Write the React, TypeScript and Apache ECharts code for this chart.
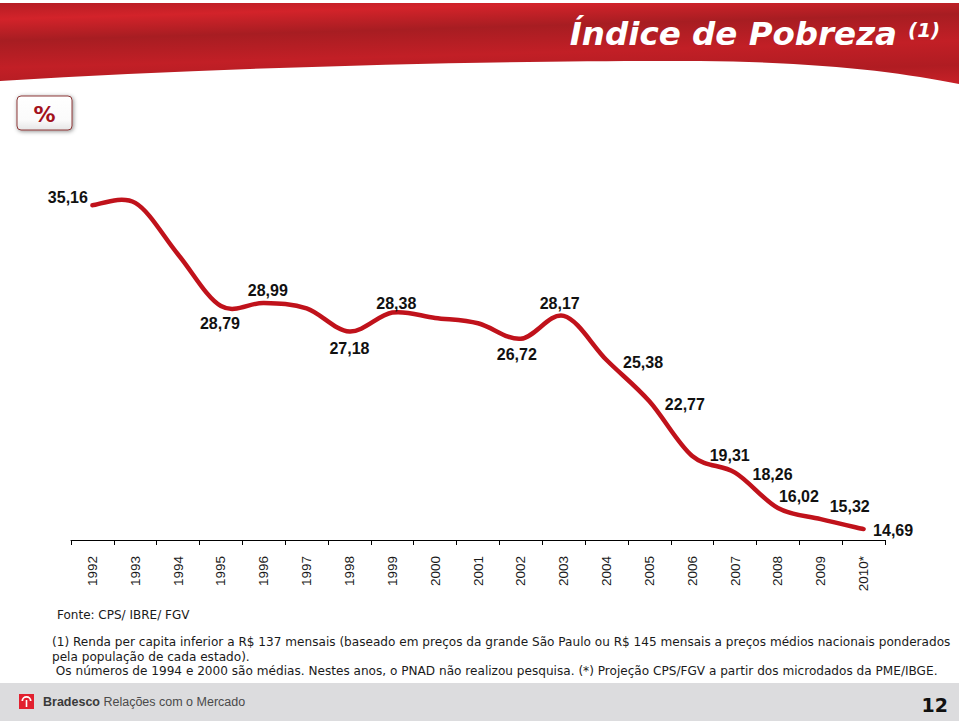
import React, { useEffect, useRef } from "react";
import * as echarts from "echarts";

const years = ["1992", "1993", "1994", "1995", "1996", "1997", "1998", "1999", "2000", "2001", "2002", "2003", "2004", "2005", "2006", "2007", "2008", "2009", "2010*"];
const povertyRate = [35.16, 35.31, 32.05, 28.79, 28.99, 28.64, 27.18, 28.38, 28.04, 27.7, 26.72, 28.17, 25.38, 22.77, 19.31, 18.26, 16.02, 15.32, 14.69];
const labelShown = [true, false, false, true, true, false, true, true, false, false, true, true, true, true, true, true, true, true, true];

const titleText = "Índice de Pobreza";
const titleNote = "(1)";
const unitText = "%";
const sourceText = "Fonte: CPS/ IBRE/ FGV";
const noteLines = [
  "(1) Renda per capita inferior a R$ 137 mensais (baseado em preços da grande São Paulo ou R$ 145 mensais a preços médios nacionais ponderados",
  "pela população de cada estado).",
  " Os números de 1994 e 2000 são médias. Nestes anos, o PNAD não realizou pesquisa. (*) Projeção CPS/FGV a partir dos microdados da PME/IBGE.",
];
const footerBrand = "Bradesco";
const footerText = " Relações com o Mercado";
const pageNumber = "12";

// label placement per point (style, not data)
const labelPlacement: Record<number, { position: string; distance: number; offset: number[] }> = {
  0: { position: "left", distance: 4, offset: [0, -8] },
  3: { position: "bottom", distance: 9, offset: [-1, 0] },
  4: { position: "top", distance: 4, offset: [4, 0] },
  6: { position: "bottom", distance: 8, offset: [0, 0] },
  7: { position: "top", distance: 1, offset: [4, 0] },
  10: { position: "bottom", distance: 7, offset: [-4, 0] },
  11: { position: "top", distance: 4, offset: [-4, 0] },
  12: { position: "right", distance: 16, offset: [0, 3] },
  13: { position: "right", distance: 15, offset: [0, 3] },
  14: { position: "right", distance: 17, offset: [0, -1] },
  15: { position: "right", distance: 17, offset: [0, 2] },
  16: { position: "top", distance: 3, offset: [21, 0] },
  17: { position: "top", distance: 4, offset: [29, 0] },
  18: { position: "right", distance: 9, offset: [0, 1] },
};

const bannerPath =
  "M0 3 L959 3 L959 84 C 900 72, 820 62, 700 61 C 520 60, 250 66, 0 81 Z";

// Excel-like smoothing (Catmull-Rom -> cubic Bezier) through library-projected points
function smoothPath(pts: number[][]): string {
  if (!pts.length) return "";
  let d = `M${pts[0][0]} ${pts[0][1]}`;
  for (let i = 0; i < pts.length - 1; i++) {
    const p0 = pts[i - 1] || pts[i];
    const p1 = pts[i];
    const p2 = pts[i + 1];
    const p3 = pts[i + 2] || pts[i + 1];
    const c1x = p1[0] + (p2[0] - p0[0]) / 6;
    const c1y = p1[1] + (p2[1] - p0[1]) / 6;
    const c2x = p2[0] - (p3[0] - p1[0]) / 6;
    const c2y = p2[1] - (p3[1] - p1[1]) / 6;
    d += ` C${c1x} ${c1y} ${c2x} ${c2y} ${p2[0]} ${p2[1]}`;
  }
  return d;
}

export default function App() {
  const ref = useRef<HTMLDivElement>(null);

  useEffect(() => {
    if (!ref.current) return;
    try {
      echarts.graphic.registerShape("banner", echarts.graphic.extendPath(bannerPath, {}) as any);
    } catch (e) {}
    const chart = echarts.init(ref.current, null, { renderer: "svg" });

    const seriesData = povertyRate.map((v, i) => {
      const p = labelPlacement[i];
      return {
        value: v,
        label: labelShown[i] && p
          ? { show: true, position: p.position, distance: p.distance, offset: p.offset }
          : { show: false },
      };
    });

    const bannerGradient = new echarts.graphic.LinearGradient(0, 0, 1, 3, [
      { offset: 0, color: "#b51d24" },
      { offset: 0.06, color: "#d3232a" },
      { offset: 0.14, color: "#a71d22" },
      { offset: 0.24, color: "#c21f26" },
      { offset: 0.33, color: "#b01c22" },
      { offset: 0.42, color: "#cf2229" },
      { offset: 0.5, color: "#8f1a1e" },
      { offset: 0.55, color: "#de242a" },
      { offset: 0.6, color: "#a31c21" },
      { offset: 0.68, color: "#e3262c" },
      { offset: 0.78, color: "#c92128" },
      { offset: 0.86, color: "#9a1b20" },
      { offset: 0.93, color: "#c92128" },
      { offset: 1, color: "#b51d24" },
    ]);

    const labelFont = "Liberation Sans, Arial, sans-serif";

    const option: any = {
      animation: false,
      backgroundColor: "#ffffff",
      grid: { left: 71, right: 74, top: 192, bottom: 181, containLabel: false },
      xAxis: {
        type: "category",
        data: years,
        boundaryGap: true,
        axisLine: { show: true, lineStyle: { color: "#000000", width: 1 } },
        axisTick: { show: true, length: 5, lineStyle: { color: "#000000" } },
        axisLabel: {
          rotate: 90,
          margin: 16,
          color: "#1a1a1a",
          fontFamily: labelFont,
          fontSize: 13.5,
          interval: 0,
        },
        splitLine: { show: false },
      },
      yAxis: {
        type: "value",
        min: 14,
        max: 36,
        show: false,
        splitLine: { show: false },
      },
      series: [
        {
          type: "custom",
          data: [[0, povertyRate[0]]],
          clip: false,
          silent: true,
          renderItem: (params: any, api: any) => {
            const pts = povertyRate.map((v, i) => api.coord([i, v]));
            return {
              type: "path",
              shape: { pathData: smoothPath(pts) },
              style: {
                fill: "none",
                stroke: "#c0121b",
                lineWidth: 4.5,
                lineCap: "round",
                lineJoin: "round",
              },
            };
          },
          z: 2,
        },
        {
          type: "line",
          data: seriesData,
          symbol: "circle",
          symbolSize: 1,
          showSymbol: true,
          itemStyle: { color: "rgba(0,0,0,0)" },
          lineStyle: { width: 0, opacity: 0 },
          label: {
            show: true,
            color: "#111111",
            fontFamily: labelFont,
            fontWeight: "bold",
            fontSize: 16,
            formatter: (p: any) => p.value.toFixed(2).replace(".", ","),
          },
          emphasis: { disabled: true },
          z: 3,
        },
      ],
      graphic: [
        {
          type: "banner",
          x: 0,
          y: 0,
          silent: true,
          style: { fill: bannerGradient },
        },
        {
          type: "text",
          x: 897,
          y: 50,
          silent: true,
          style: {
            text: titleText,
            fill: "#ffffff",
            font: "italic bold 32.5px 'DejaVu Sans', Verdana, sans-serif",
            textAlign: "right",
            textVerticalAlign: "bottom",
            shadowColor: "rgba(0,0,0,0.35)",
            shadowBlur: 2,
            shadowOffsetX: 1,
            shadowOffsetY: 1,
          },
        },
        {
          type: "text",
          x: 908,
          y: 20,
          silent: true,
          style: {
            text: titleNote,
            fill: "#ffffff",
            font: "italic bold 20px 'DejaVu Sans', Verdana, sans-serif",
            textAlign: "left",
            textVerticalAlign: "top",
          },
        },
        {
          type: "rect",
          shape: { x: 17, y: 96, width: 55, height: 34, r: 4 },
          silent: true,
          style: {
            fill: new echarts.graphic.LinearGradient(0, 0, 0, 1, [
              { offset: 0, color: "#ffffff" },
              { offset: 0.7, color: "#fbfbfb" },
              { offset: 1, color: "#e6e6e6" },
            ]),
            stroke: "#8c3a3a",
            lineWidth: 1,
            shadowColor: "rgba(0,0,0,0.45)",
            shadowBlur: 4,
            shadowOffsetX: 1,
            shadowOffsetY: 1,
          },
        },
        {
          type: "text",
          x: 44.5,
          y: 114,
          silent: true,
          style: {
            text: unitText,
            fill: "#a3121c",
            font: "bold 22px 'DejaVu Sans', Verdana, sans-serif",
            textAlign: "center",
            textVerticalAlign: "middle",
          },
        },
        {
          type: "text",
          x: 57,
          y: 615,
          silent: true,
          style: {
            text: sourceText,
            fill: "#1a1a1a",
            font: "12px 'DejaVu Sans', Verdana, sans-serif",
            textAlign: "left",
            textVerticalAlign: "middle",
          },
        },
        ...noteLines.map((t, i) => ({
          type: "text",
          x: 52,
          y: 642 + i * 14.5,
          silent: true,
          style: {
            text: t,
            fill: "#1a1a1a",
            font: "12.1px 'DejaVu Sans', Verdana, sans-serif",
            textAlign: "left",
            textVerticalAlign: "middle",
          },
        })),
        {
          type: "rect",
          shape: { x: 0, y: 683, width: 959, height: 38 },
          silent: true,
          style: { fill: "#dcdcde" },
        },
        {
          type: "rect",
          shape: { x: 19, y: 694, width: 15, height: 15 },
          silent: true,
          style: { fill: "#e2202f" },
        },
        {
          type: "arc",
          shape: { cx: 26.5, cy: 701, r: 4.2, startAngle: Math.PI, endAngle: 2 * Math.PI },
          silent: true,
          style: { stroke: "#ffffff", lineWidth: 1.8, fill: "none" },
        },
        {
          type: "line",
          shape: { x1: 26.5, y1: 700, x2: 26.5, y2: 707 },
          silent: true,
          style: { stroke: "#ffffff", lineWidth: 1.6 },
        },
        {
          type: "text",
          x: 43,
          y: 702,
          silent: true,
          style: {
            text: "{b|" + footerBrand + "}{r|" + footerText + "}",
            textVerticalAlign: "middle",
            rich: {
              b: {
                fontFamily: labelFont,
                fontWeight: "bold",
                fontSize: 12.5,
                fill: "#3a3a3a",
                color: "#3a3a3a",
              },
              r: {
                fontFamily: labelFont,
                fontSize: 12.5,
                fill: "#4a4a4a",
                color: "#4a4a4a",
              },
            },
          },
        },
        {
          type: "text",
          x: 948,
          y: 705,
          silent: true,
          style: {
            text: pageNumber,
            fill: "#111111",
            font: "bold 19px 'DejaVu Sans', Verdana, sans-serif",
            textAlign: "right",
            textVerticalAlign: "middle",
          },
        },
      ],
    };

    chart.setOption(option);
    return () => chart.dispose();
  }, []);

  return (
    <div
      ref={ref}
      style={{ position: "fixed", left: 0, top: 0, width: 959, height: 721, background: "#ffffff" }}
    />
  );
}
